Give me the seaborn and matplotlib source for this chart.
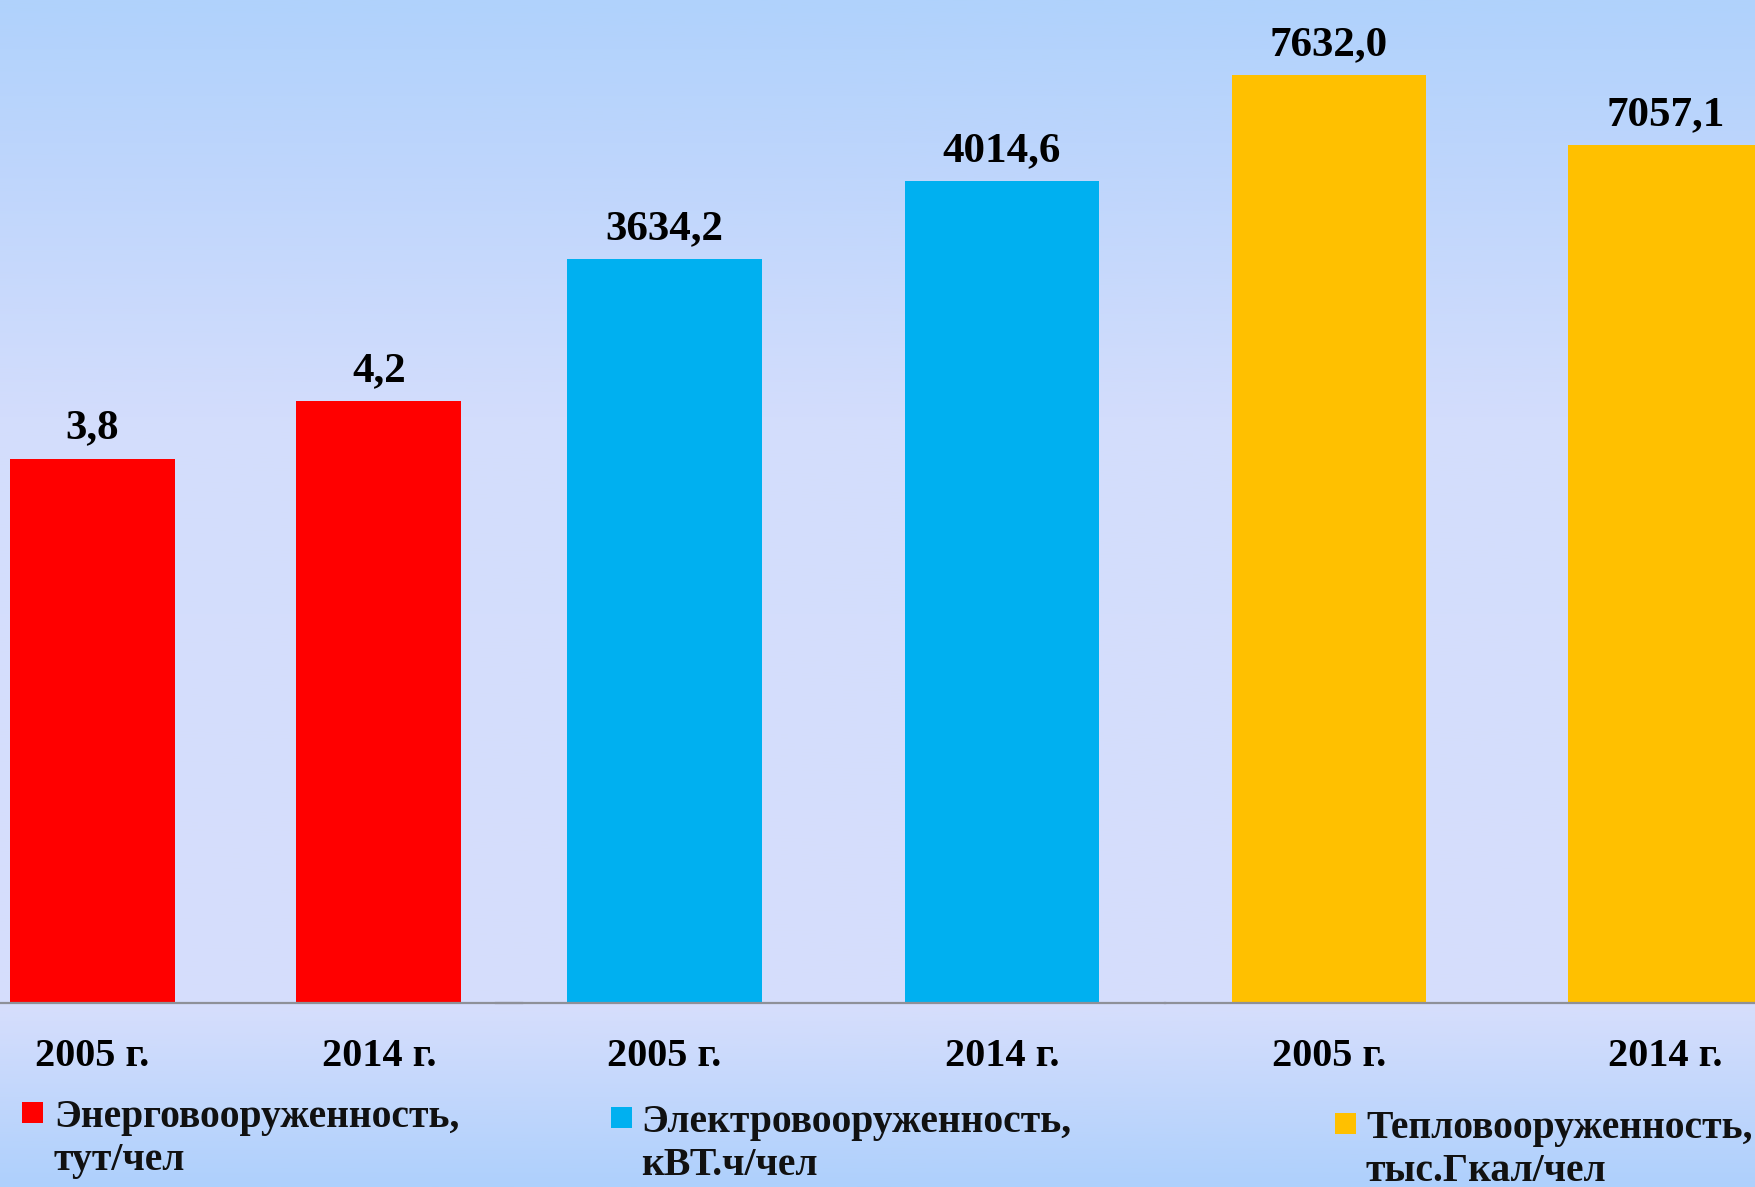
import numpy as np
import pandas as pd
import matplotlib
matplotlib.use("Agg")
import matplotlib.pyplot as plt
import seaborn as sns
from matplotlib.patches import Rectangle

# ---- data ----
years = ["2005 г.", "2014 г."]
energy_vals = [3.8, 4.2]
electro_vals = [3634.2, 4014.6]
heat_vals = [7632.0, 7057.1]
energy_labels = ["3,8", "4,2"]
electro_labels = ["3634,2", "4014,6"]
heat_labels = ["7632,0", "7057,1"]
legend_names = ["Энерговооруженность,\nтут/чел",
                "Электровооруженность,\nкВТ.ч/чел",
                "Тепловооруженность,\nтыс.Гкал/чел"]

colors = ["#FF0000", "#00B0F0", "#FFC000"]

sns.set_theme(style="white")
plt.rcParams['font.family'] = ['Liberation Serif', 'DejaVu Serif']
plt.rcParams['font.weight'] = 'bold'

W, H = 1756, 1187
fig = plt.figure(figsize=(W / 100, H / 100), dpi=100)

# background gradient
bg = fig.add_axes([0, 0, 1, 1], zorder=-10)
stops = np.array([0.0, 0.12, 0.35, 0.85, 1.0])
cols = np.array([[176, 210, 252], [188, 213, 252], [211, 221, 252],
                 [214, 222, 252], [174, 208, 252]]) / 255.0
yy = np.linspace(0, 1, 400)
grad = np.stack([np.interp(yy, stops, cols[:, i]) for i in range(3)], axis=-1)
bg.imshow(grad[:, None, :], aspect='auto', extent=[0, 1, 1, 0])
bg.set_axis_off()

base_px = 1003
bottom = (H - base_px) / H
height = base_px / H

panels = [
    dict(vals=energy_vals, labels=energy_labels, x0=0, x1=522, xlim=(-0.323, 1.50), ytop=7.0, width=0.577),
    dict(vals=electro_vals, labels=electro_labels, x0=496, x1=1165, xlim=(-0.50, 1.484), ytop=4900, width=0.576),
    dict(vals=heat_vals, labels=heat_labels, x0=1165, x1=1756, xlim=(-0.488, 1.27), ytop=8250, width=0.577),
]

for i, p in enumerate(panels):
    ax = fig.add_axes([p["x0"] / W, bottom, (p["x1"] - p["x0"]) / W, height])
    ax.patch.set_alpha(0)
    df = pd.DataFrame({"year": years, "value": p["vals"]})
    sns.barplot(data=df, x="year", y="value", color=colors[i], width=p["width"],
                saturation=1, ax=ax, errorbar=None, linewidth=0, edgecolor="none")
    ax.set_xlim(*p["xlim"])
    ax.set_ylim(0, p["ytop"])
    for bar, lab in zip(ax.patches, p["labels"]):
        ax.annotate(lab, (bar.get_x() + bar.get_width() / 2, bar.get_height()),
                    xytext=(0, 8), textcoords="offset points", ha="center", va="bottom",
                    fontsize=31, fontweight="bold", color="black", annotation_clip=False)
    ax.set_xlabel("")
    ax.set_ylabel("")
    ax.set_yticks([])
    ax.tick_params(axis="x", length=0, pad=25)
    for t in ax.get_xticklabels():
        t.set_fontsize(29)
        t.set_fontweight("bold")
        t.set_color("black")
    for s in ["top", "left", "right"]:
        ax.spines[s].set_visible(False)
    ax.spines["bottom"].set_color("#8e9098")
    ax.spines["bottom"].set_linewidth(1.6)

# legends (one per panel)
leg_pos = [(22, 1113, 54), (611, 1118, 641), (1335, 1124, 1366)]
for (mx, my, tx), name, c in zip(leg_pos, legend_names, colors):
    fig.patches.append(Rectangle((mx / W, (H - my - 10) / H), 21 / W, 21 / H,
                                 transform=fig.transFigure, facecolor=c, edgecolor="none"))
    fig.text(tx / W, (H - my + 14) / H, name, ha="left", va="top", fontsize=28.5,
             fontweight="bold", color="#111111", linespacing=1.2)

fig.savefig("out.png", dpi=100)
